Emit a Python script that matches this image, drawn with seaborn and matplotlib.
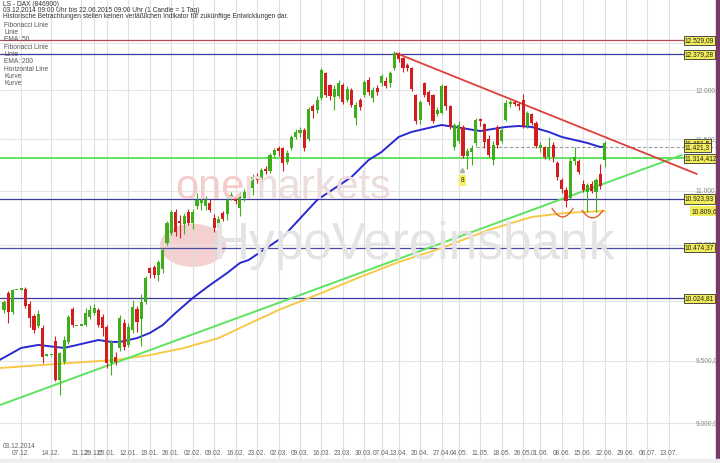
import numpy as np
import pandas as pd
import matplotlib
matplotlib.use("Agg")
import matplotlib.pyplot as plt
import seaborn as sns
from matplotlib.path import Path
from matplotlib.patches import PathPatch, Rectangle

# --- trading days (weekend candles only in Dec 2014) ---
dec_days = pd.date_range("2014-12-03", "2014-12-21", freq="D")
xmas_days = pd.to_datetime(["2014-12-22", "2014-12-23", "2014-12-29", "2014-12-30", "2015-01-02"])
holidays = pd.to_datetime(["2015-04-03", "2015-04-06", "2015-05-01", "2015-05-25"])
later = pd.bdate_range("2015-01-05", "2015-07-31")
later = later[~later.isin(holidays)]
axis_days = dec_days.append(xmas_days).append(later)
last_day = pd.Timestamp("2015-06-22")

# --- OHLC ---
opens = [9925, 10071, 9906, 10097, 10100, 10105, 9980, 9870, 9790, 9770, 9540, 9545, 9660, 9340, 9488,
         9654, 9932, 9788, 9790, 9796, 9864, 9899, 9924, 9864, 9779, 9479, 9530, 9604, 9814, 9629,
         9750, 9930, 9850, 9993, 10290, 10300, 10230, 10280, 10516, 10607, 10801, 10720, 10690, 10800, 10700,
         10860, 10890, 10860, 10890, 10750, 10650, 10790, 10780, 10940, 10930, 10840, 10930, 10960, 11030, 11140,
         11100, 11215, 11190, 11350, 11420, 11420, 11280, 11420, 11520, 11560, 11590, 11500, 11840, 11800, 11920,
         12180, 12050, 11930, 11940, 12050, 11900, 12000, 11720, 11900, 11950, 12110, 11920, 12020, 12070, 12100,
         12070, 12230, 12380, 12340, 12260, 12230, 11950, 11700, 12070, 11980, 11950, 11760, 11770, 12040, 11840,
         11429, 11480, 11620, 11340, 11380, 11460, 11710, 11650, 11500, 11300, 11620, 11480, 11700, 11860, 11880,
         11860, 11900, 11630, 11760, 11660, 11420, 11430, 11330, 11450, 11270, 11100, 11010, 10930, 11290, 11290,
         11070, 10990, 11070, 10990, 11160, 11300]
highs = [10010, 10090, 10110, 10100, 10103, 10120, 10000, 9890, 9920, 9800, 9545, 9548, 9700, 9570, 9700,
         9880, 9950, 9790, 9792, 9940, 9970, 9980, 9940, 9890, 9800, 9670, 9570, 9880, 9850, 9810,
         10010, 9960, 10060, 10220, 10300, 10320, 10360, 10470, 10720, 10820, 10830, 10770, 10790, 10830, 10830,
         10980, 10950, 10950, 10920, 10780, 10760, 10810, 10930, 10990, 10950, 10990, 11020, 11080, 11160, 11170,
         11220, 11240, 11370, 11420, 11440, 11430, 11400, 11540, 11600, 11620, 11610, 11830, 11860, 11940, 12230,
         12190, 12060, 12050, 12110, 12080, 12040, 12020, 11880, 11920, 12110, 12140, 12030, 12050, 12170, 12140,
         12200, 12413, 12400, 12350, 12290, 12240, 11960, 11900, 12090, 12000, 11960, 11830, 12060, 12050, 11850,
         11660, 11680, 11640, 11420, 11450, 11720, 11720, 11660, 11540, 11480, 11640, 11610, 11900, 11900, 11900,
         11880, 11960, 11790, 11770, 11680, 11470, 11440, 11520, 11470, 11290, 11120, 11040, 11320, 11430, 11310,
         11100, 11080, 11090, 11120, 11260, 11480]
lows = [9900, 9813, 9890, 10095, 10098, 9940, 9780, 9730, 9770, 9480, 9538, 9540, 9330, 9221, 9470,
        9640, 9780, 9786, 9788, 9790, 9850, 9880, 9780, 9700, 9440, 9381, 9460, 9580, 9590, 9610,
        9730, 9740, 9620, 9980, 10200, 10200, 10180, 10250, 10500, 10590, 10580, 10560, 10600, 10680, 10640,
        10830, 10820, 10820, 10800, 10620, 10560, 10720, 10730, 10910, 10880, 10760, 10900, 10940, 10960, 11080,
        11060, 11160, 11170, 11330, 11340, 11190, 11260, 11400, 11500, 11520, 11390, 11480, 11720, 11770, 11900,
        11930, 11900, 11800, 11920, 11860, 11880, 11830, 11640, 11800, 11930, 11950, 11880, 11950, 12040, 12020,
        12030, 12210, 12300, 12190, 12200, 11990, 11650, 11650, 11930, 11850, 11660, 11740, 11760, 11800, 11600,
        11400, 11460, 11320, 11210, 11250, 11440, 11630, 11420, 11330, 11250, 11420, 11460, 11680, 11830, 11840,
        11800, 11610, 11610, 11640, 11420, 11380, 11310, 11300, 11280, 11100, 10980, 10850, 10920, 11250, 11160,
        10990, 10800, 10980, 10800, 11020, 11230]
closes = [9993, 9906, 10097, 10097, 10100, 9955, 9860, 9750, 9890, 9530, 9540, 9545, 9340, 9560, 9670,
          9864, 9796, 9788, 9790, 9899, 9924, 9940, 9796, 9771, 9479, 9654, 9485, 9856, 9612, 9779,
          9950, 9820, 9993, 10203, 10250, 10230, 10340, 10452, 10699, 10801, 10620, 10700, 10760, 10700, 10800,
          10910, 10910, 10910, 10820, 10650, 10740, 10740, 10910, 10960, 10900, 10960, 10990, 11050, 11130, 11100,
          11200, 11190, 11350, 11400, 11390, 11270, 11370, 11520, 11570, 11590, 11420, 11810, 11790, 11900, 12210,
          11950, 11940, 12010, 12080, 11880, 12010, 11850, 11850, 11830, 12090, 11980, 12000, 11980, 12150, 12040,
          12180, 12390, 12330, 12230, 12230, 12010, 11680, 11880, 11950, 11880, 11680, 11800, 12040, 11840, 11627,
          11644, 11640, 11340, 11390, 11420, 11700, 11680, 11470, 11350, 11450, 11450, 11590, 11870, 11880, 11860,
          11840, 11630, 11770, 11660, 11440, 11450, 11330, 11430, 11330, 11130, 11020, 10900, 11290, 11330, 11180,
          11010, 11060, 11000, 11100, 11050, 11461]

# --- indicator curves (day index, price) ---
ema50_day = [-1, 4, 8, 14, 19, 22, 25, 27, 31, 34, 37, 40, 44, 48, 52, 55, 57, 65, 73, 81, 85, 88, 92, 95,
             98, 102, 105, 108, 111, 114, 117, 120, 123, 127, 130, 133, 136, 139, 140]
ema50_val = [9505, 9604, 9629, 9604, 9645, 9670, 9654, 9654, 9686, 9729, 9796, 9899, 10028, 10140, 10246,
             10336, 10362, 10570, 10914, 11133, 11298, 11376, 11525, 11575, 11605, 11645, 11625, 11605, 11584,
             11605, 11625, 11635, 11625, 11575, 11525, 11495, 11465, 11425, 11430]
ema200_day = [-1, 15, 26, 34, 42, 50, 55, 64, 74, 83, 92, 102, 113, 123, 131, 140]
ema200_val = [9439, 9479, 9505, 9545, 9604, 9686, 9771, 9924, 10071, 10211, 10344, 10470, 10635, 10755,
              10793, 10810]
support_day = [-1, 158]
support_val = [9141, 11346]
resist_day = [91.5, 161.5]
resist_val = [12389, 11162]

# horizontal lines and their right-hand labels
fib_levels = [12529.09, 12379.28, 10923.93, 10474.37, 10024.81]
fib_labels = ["12.529,09", "12.379,28", "10.923,93", "10.474,37", "10.024,81"]
fib_colors = ["#b84a5a", "#3a3aa0", "#3a3aa0", "#4a4aa8", "#3a3aa0"]
green_level = 11314.412
green_label = "11.314,412"
dash_level = 11421.3
dash_label = "11.421,3"
last_price = 11461.5
last_label = "11.461,5"
ema200_label = "10.809,6"

grid_levels = [9000, 9500, 10000, 10500, 11000, 11500, 12000, 12500]
grid_labels = ["9.000,0", "9.500,0", "10.000,", "10.500,", "11.000,", "11.500,", "12.000,", "12.500,"]

tick_labels = ["07.12.", "14.12.", "21.12.", "29.12.", "05.01.", "12.01.", "19.01.", "26.01.", "02.02.",
               "09.02.", "16.02.", "23.02.", "02.03.", "09.03.", "16.03.", "23.03.", "30.03.", "07.04.",
               "13.04.", "20.04.", "27.04.", "04.05.", "11.05.", "18.05.", "26.05.", "01.06.", "08.06.",
               "15.06.", "22.06.", "29.06.", "06.07.", "13.07."]

legend_lines = ["Fibonacci Linie", "Linie", "EMA: 50", "Fibonacci Linie", "Linie", "EMA: 200",
                "Horizontal Line", "Kurve", "Kurve"]

# smile arcs (start day, end day, end price, bottom price)
arcs = [(127.7, 132.7, 10839, 10755), (134.7, 139.7, 10820, 10746)]

# ---------------------------------------------------------------
sns.set_style("white")
plt.rcParams["font.family"] = ["Liberation Sans", "DejaVu Sans"]
FS = 4.8

fig = plt.figure(figsize=(7.2, 4.63), dpi=100)
ax = fig.add_axes([0, 0, 1, 1])
ax.set_yscale("log")
ax.set_xlim(-0.93, 166.9)
ax.set_ylim(8695, 12973)
ax.axis("off")

n = int((axis_days <= last_day).sum())
x = np.arange(n)
o, h, l, c = (np.array(v, dtype=float) for v in (opens, highs, lows, closes))

# watermark
fig.text(0.243, 0.595, "one", fontsize=30, color="#f4cccc", ha="left", va="center", zorder=0)
fig.text(0.338, 0.595, "markets", fontsize=30, color="#ecdcdc", ha="left", va="center", zorder=0)
fig.text(0.295, 0.47, "HypoVereinsbank", fontsize=37, color="#e4e4e4", ha="left", va="center", zorder=0)
ax.add_patch(plt.Circle((0.268, 0.47), 0.045, transform=fig.transFigure, color="#f4d0d0", zorder=0,
                        clip_on=False))

# grid
for lev in grid_levels:
    ax.axhline(lev, color="#e4e4e4", lw=0.8, zorder=1)
tick_dates = [pd.Timestamp(("2014" if t.endswith("12.") else "2015") + "-" + t[3:5] + "-" + t[0:2])
              for t in tick_labels]
tick_pos = [int(axis_days.searchsorted(d)) for d in tick_dates]
for p in tick_pos:
    ax.axvline(p, color="#e0e0e0", lw=0.8, zorder=1)

# horizontal lines
for lev, col in zip(fib_levels, fib_colors):
    ax.axhline(lev, color=col, lw=0.9, zorder=2)
ax.axhline(green_level, color="#55e055", lw=1.3, zorder=2)
ax.hlines(dash_level, 110, 166.9, colors="#9a9a9a", lw=0.8, linestyles=(0, (3, 2)), zorder=2)

# EMAs and trend lines
sns.lineplot(x=ema200_day, y=ema200_val, ax=ax, color="#f7c948", lw=1.4, zorder=3)
sns.lineplot(x=ema50_day, y=ema50_val, ax=ax, color="#2a2ad2", lw=1.4, zorder=3)
sns.lineplot(x=support_day, y=support_val, ax=ax, color="#5ee35e", lw=1.4, zorder=3)
sns.lineplot(x=resist_day, y=resist_val, ax=ax, color="#e0403a", lw=1.3, zorder=3)

# candles
green, red = "#3fae1c", "#d21e1e"
cols = np.where(c >= o, green, red)
ax.vlines(x, l, h, colors=cols, lw=0.8, zorder=4)
body_lo = np.minimum(o, c)
body_h = np.maximum(np.abs(c - o), body_lo * 0.0012)
ax.bar(x, body_h, bottom=body_lo, width=0.72, color=cols, linewidth=0, zorder=5)

# arcs
for d0, d1, pe, pb in arcs:
    dm = (d0 + d1) / 2
    ctrl = np.exp(2 * np.log(pb) - np.log(pe))
    path = Path([(d0, pe), (dm, ctrl), (d1, pe)], [Path.MOVETO, Path.CURVE3, Path.CURVE3])
    ax.add_patch(PathPatch(path, fill=False, edgecolor="#e0602a", lw=1.0, zorder=6))

# "8" marker
ax.plot([106.8], [11200], marker="^", ms=3, color="#a8b8a0", zorder=6)
ax.text(106.8, 11100, "8", fontsize=FS, ha="center", va="center", zorder=7,
        bbox=dict(boxstyle="square,pad=0.25", fc="#f5f060", ec="none"))

# y axis labels (inside, right)
for lev, lab in zip(grid_levels, grid_labels):
    ax.text(0.966, lev, lab, transform=ax.get_yaxis_transform(), fontsize=FS, color="#8a8a8a",
            ha="left", va="center", zorder=7)

# right-hand value boxes
def value_box(price, text, edge=True, xpos=0.951):
    ax.text(xpos, price, text, transform=ax.get_yaxis_transform(), fontsize=FS, color="#222222",
            ha="left", va="center", zorder=8,
            bbox=dict(boxstyle="square,pad=0.18", fc="#f2ee5a", ec="#333333" if edge else "none", lw=0.6))

value_box(last_price, last_label)
for lev, lab in zip(fib_levels, fib_labels):
    value_box(lev, lab)
value_box(dash_level, dash_label)
value_box(green_level, green_label)
value_box(10809.6, ema200_label, edge=False, xpos=0.9605)

# x tick labels
for p, lab in zip(tick_pos, tick_labels):
    ax.text(p, 0.021, lab, transform=ax.get_xaxis_transform(), fontsize=FS, color="#666666",
            ha="center", va="center", zorder=7)
ax.text(-0.3, 0.035, "03.12.2014", transform=ax.get_xaxis_transform(), fontsize=FS, color="#666666",
        ha="left", va="center", zorder=7)

# header / legend text
head = ["LS - DAX (846900)",
        "03.12.2014 09:00 Uhr bis 22.06.2015 09:00 Uhr (1 Candle = 1 Tag)",
        "Historische Betrachtungen stellen keinen verläßlichen Indikator für zukünftige Entwicklungen dar."]
for i, t in enumerate(head):
    fig.text(0.004, 1 - (5 + 5.9 * i) / 463, t, fontsize=FS, color="#333333", ha="left", va="center")
for i, t in enumerate(legend_lines):
    fig.text(0.006, 1 - (25.3 + 7.3 * i) / 463, t, fontsize=FS, color="#555555", ha="left", va="center")

# frame bits
fig.patches.append(Rectangle((716 / 720, 0), 4 / 720, 1, transform=fig.transFigure, color="#7a3a68", zorder=10))
fig.patches.append(Rectangle((0, 0), 1, 4 / 463, transform=fig.transFigure, color="#eeeeee", zorder=10))

fig.savefig("out.png", dpi=100)
